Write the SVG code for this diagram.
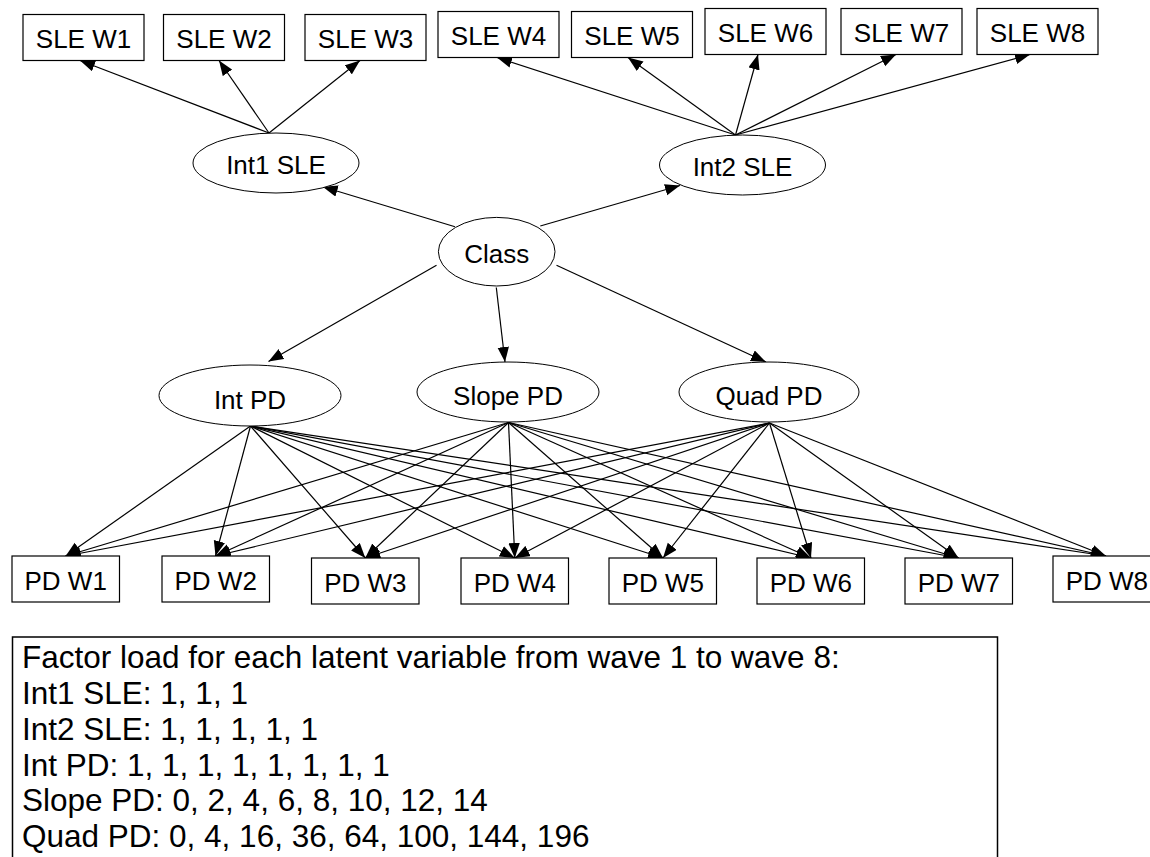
<svg xmlns="http://www.w3.org/2000/svg" width="1150" height="857" viewBox="0 0 1150 857">
  <defs>
    <marker id="arrow" markerUnits="userSpaceOnUse" markerWidth="16" markerHeight="12" refX="15" refY="5.75" orient="auto">
      <path d="M0,0 L15,5.75 L0,11.5 z" fill="#000"/>
    </marker>
  </defs>
  <style>
    .box{fill:#fff;stroke:#000;stroke-width:1.2}
    .lat{fill:#fff;stroke:#000;stroke-width:1}
    .lbl{font-family:"Liberation Sans",Arial,Helvetica,sans-serif;font-size:26px;fill:#000;text-anchor:middle}
    .edge{stroke:#000;stroke-width:1.2;fill:none;marker-end:url(#arrow)}
    .note{font-family:"Liberation Sans",Arial,Helvetica,sans-serif;font-size:31.5px;fill:#000}
  </style>
  <rect width="1150" height="857" fill="#fff"/>

  <!-- connectors -->
  <g id="connectors">
    <!-- Int1 SLE -> SLE waves 1-3 -->
    <line class="edge" x1="269" y1="133" x2="80" y2="60.5"/>
    <line class="edge" x1="269" y1="133" x2="219" y2="60.5"/>
    <line class="edge" x1="269" y1="133" x2="360" y2="60.5"/>
    <!-- Int2 SLE -> SLE waves 4-8 -->
    <line class="edge" x1="735.5" y1="135" x2="497" y2="57.5"/>
    <line class="edge" x1="735.5" y1="135" x2="628" y2="57.5"/>
    <line class="edge" x1="735.5" y1="135" x2="758" y2="54.5"/>
    <line class="edge" x1="735.5" y1="135" x2="896" y2="54.5"/>
    <line class="edge" x1="735.5" y1="135" x2="1030" y2="54.5"/>
    <!-- Class -> latent growth factors -->
    <line class="edge" x1="455" y1="226.7" x2="322.7" y2="186.7"/>
    <line class="edge" x1="540.3" y1="226" x2="680" y2="185.5"/>
    <line class="edge" x1="436.5" y1="265.2" x2="268.5" y2="361.5"/>
    <line class="edge" x1="496.3" y1="287.5" x2="505" y2="362"/>
    <line class="edge" x1="556.5" y1="265.2" x2="766" y2="362"/>
    <!-- Int PD -> PD waves -->
    <line class="edge" x1="250.5" y1="426" x2="65.7" y2="556"/>
    <line class="edge" x1="250.5" y1="426" x2="215.5" y2="556"/>
    <line class="edge" x1="250.5" y1="426" x2="365.3" y2="558"/>
    <line class="edge" x1="250.5" y1="426" x2="514.8" y2="558"/>
    <line class="edge" x1="250.5" y1="426" x2="663" y2="558"/>
    <line class="edge" x1="250.5" y1="426" x2="811" y2="558"/>
    <line class="edge" x1="250.5" y1="426" x2="958.5" y2="558"/>
    <line class="edge" x1="250.5" y1="426" x2="1106" y2="556"/>
    <!-- Slope PD -> PD waves -->
    <line class="edge" x1="508.5" y1="422.5" x2="65.7" y2="556"/>
    <line class="edge" x1="508.5" y1="422.5" x2="215.5" y2="556"/>
    <line class="edge" x1="508.5" y1="422.5" x2="365.3" y2="558"/>
    <line class="edge" x1="508.5" y1="422.5" x2="514.8" y2="558"/>
    <line class="edge" x1="508.5" y1="422.5" x2="663" y2="558"/>
    <line class="edge" x1="508.5" y1="422.5" x2="811" y2="558"/>
    <line class="edge" x1="508.5" y1="422.5" x2="958.5" y2="558"/>
    <line class="edge" x1="508.5" y1="422.5" x2="1106" y2="556"/>
    <!-- Quad PD -> PD waves -->
    <line class="edge" x1="769.5" y1="423" x2="65.7" y2="556"/>
    <line class="edge" x1="769.5" y1="423" x2="215.5" y2="556"/>
    <line class="edge" x1="769.5" y1="423" x2="365.3" y2="558"/>
    <line class="edge" x1="769.5" y1="423" x2="514.8" y2="558"/>
    <line class="edge" x1="769.5" y1="423" x2="663" y2="558"/>
    <line class="edge" x1="769.5" y1="423" x2="811" y2="558"/>
    <line class="edge" x1="769.5" y1="423" x2="958.5" y2="558"/>
    <line class="edge" x1="769.5" y1="423" x2="1106" y2="556"/>
  </g>

  <!-- observed SLE indicators -->
  <g id="sle_w1"><rect class="box" x="23" y="14.5" width="121" height="46"/><text class="lbl" x="83.5" y="48">SLE W1</text></g>
  <g id="sle_w2"><rect class="box" x="163.5" y="14.5" width="121" height="46"/><text class="lbl" x="224" y="48">SLE W2</text></g>
  <g id="sle_w3"><rect class="box" x="305" y="14.5" width="121" height="46"/><text class="lbl" x="365.5" y="48">SLE W3</text></g>
  <g id="sle_w4"><rect class="box" x="438" y="11.5" width="121" height="46"/><text class="lbl" x="498.5" y="45">SLE W4</text></g>
  <g id="sle_w5"><rect class="box" x="571.5" y="11.5" width="121" height="46"/><text class="lbl" x="632" y="45">SLE W5</text></g>
  <g id="sle_w6"><rect class="box" x="705" y="8.5" width="121" height="46"/><text class="lbl" x="765.5" y="42">SLE W6</text></g>
  <g id="sle_w7"><rect class="box" x="841" y="8.5" width="121" height="46"/><text class="lbl" x="901.5" y="42">SLE W7</text></g>
  <g id="sle_w8"><rect class="box" x="977" y="8.5" width="121" height="46"/><text class="lbl" x="1037.5" y="42">SLE W8</text></g>

  <!-- latent variables -->
  <g id="int1_sle"><ellipse class="lat" cx="276" cy="163" rx="83" ry="30"/><text class="lbl" x="276" y="173.5">Int1 SLE</text></g>
  <g id="int2_sle"><ellipse class="lat" cx="742.5" cy="165" rx="83" ry="30"/><text class="lbl" x="742.5" y="175.5">Int2 SLE</text></g>
  <g id="class"><ellipse class="lat" cx="496.7" cy="251.7" rx="58.3" ry="34.3"/><text class="lbl" x="496.7" y="263">Class</text></g>
  <g id="int_pd"><ellipse class="lat" cx="250" cy="395.5" rx="91" ry="30.5"/><text class="lbl" x="250" y="408.5">Int PD</text></g>
  <g id="slope_pd"><ellipse class="lat" cx="508" cy="392" rx="91" ry="30"/><text class="lbl" x="508" y="405">Slope PD</text></g>
  <g id="quad_pd"><ellipse class="lat" cx="769" cy="392" rx="90" ry="30"/><text class="lbl" x="769" y="405">Quad PD</text></g>

  <!-- observed PD indicators -->
  <g id="pd_w1"><rect class="box" x="12" y="556" width="107.5" height="46"/><text class="lbl" x="65.7" y="589.5">PD W1</text></g>
  <g id="pd_w2"><rect class="box" x="162" y="556" width="107.5" height="46"/><text class="lbl" x="215.7" y="589.5">PD W2</text></g>
  <g id="pd_w3"><rect class="box" x="311.5" y="558" width="107.5" height="46"/><text class="lbl" x="365.3" y="591.5">PD W3</text></g>
  <g id="pd_w4"><rect class="box" x="461" y="558" width="107.5" height="46"/><text class="lbl" x="514.8" y="591.5">PD W4</text></g>
  <g id="pd_w5"><rect class="box" x="609" y="558" width="107.5" height="46"/><text class="lbl" x="662.8" y="591.5">PD W5</text></g>
  <g id="pd_w6"><rect class="box" x="757" y="558" width="107.5" height="46"/><text class="lbl" x="810.8" y="591.5">PD W6</text></g>
  <g id="pd_w7"><rect class="box" x="905" y="558" width="107.5" height="46"/><text class="lbl" x="958.8" y="591.5">PD W7</text></g>
  <g id="pd_w8"><rect class="box" x="1053" y="556" width="107.5" height="46"/><text class="lbl" x="1106.8" y="589.5">PD W8</text></g>

  <!-- factor loading legend -->
  <g id="legend">
    <rect x="12.5" y="637" width="985" height="240" fill="none" stroke="#000" stroke-width="1.5"/>
    <text class="note" x="22" y="668">Factor load for each latent variable from wave 1 to wave 8:</text>
    <text class="note" x="22" y="704">Int1 SLE: 1, 1, 1</text>
    <text class="note" x="22" y="740">Int2 SLE: 1, 1, 1, 1, 1</text>
    <text class="note" x="22" y="775.5">Int PD: 1, 1, 1, 1, 1, 1, 1, 1</text>
    <text class="note" x="22" y="811">Slope PD: 0, 2, 4, 6, 8, 10, 12, 14</text>
    <text class="note" x="22" y="846.5">Quad PD: 0, 4, 16, 36, 64, 100, 144, 196</text>
  </g>
</svg>
